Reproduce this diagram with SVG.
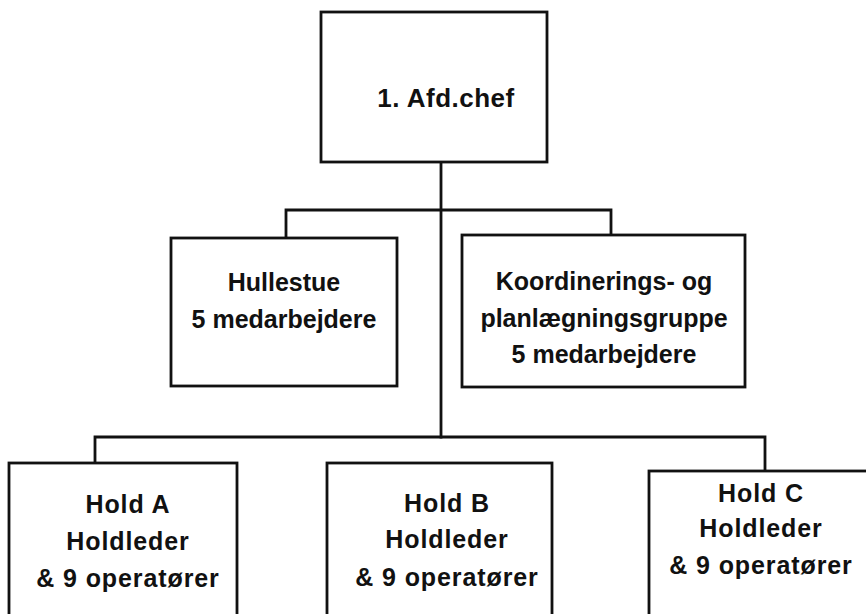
<svg xmlns="http://www.w3.org/2000/svg" width="866" height="614" viewBox="0 0 866 614">
<style>
.box{fill:#fff;stroke:#111;stroke-width:2.8}
.ln{fill:none;stroke:#111;stroke-width:2.8;stroke-linecap:square}
text{font-family:"Liberation Sans",Arial,sans-serif;font-weight:bold;fill:#111;text-anchor:middle}
.t{font-size:25px}
.h{font-size:25px;letter-spacing:0.9px}
</style>
<rect width="866" height="614" fill="#fff"/>
<g id="connectors">
<path class="ln" d="M441 162 V437"/>
<path class="ln" d="M286 238 V210 H611 V235"/>
<path class="ln" d="M95 463 V437 H765 V471"/>
</g>
<g id="afdchef">
<rect class="box" x="321" y="12" width="226" height="150"/>
<text x="446" y="107" style="font-size:26px;letter-spacing:0.5px">1. Afd.chef</text>
</g>
<g id="hullestue">
<rect class="box" x="171" y="238" width="226" height="148"/>
<text class="t" x="284" y="291">Hullestue</text>
<text class="t" x="284" y="328">5 medarbejdere</text>
</g>
<g id="koordinering">
<rect class="box" x="462" y="235" width="283" height="152"/>
<text class="t" x="604" y="290">Koordinerings- og</text>
<text class="t" x="604" y="327">planlægningsgruppe</text>
<text class="t" x="604" y="363">5 medarbejdere</text>
</g>
<g id="holdA">
<rect class="box" x="9" y="463" width="228" height="160"/>
<text class="h" x="128" y="513">Hold A</text>
<text class="h" x="128" y="550">Holdleder</text>
<text class="h" x="128" y="587">&amp; 9 operatører</text>
</g>
<g id="holdB">
<rect class="box" x="327" y="463" width="225" height="160"/>
<text class="h" x="447" y="512">Hold B</text>
<text class="h" x="447" y="548">Holdleder</text>
<text class="h" x="447" y="586">&amp; 9 operatører</text>
</g>
<g id="holdC">
<rect class="box" x="649" y="471" width="240" height="160"/>
<text class="h" x="761" y="502">Hold C</text>
<text class="h" x="761" y="537">Holdleder</text>
<text class="h" x="761" y="574">&amp; 9 operatører</text>
</g>
</svg>
